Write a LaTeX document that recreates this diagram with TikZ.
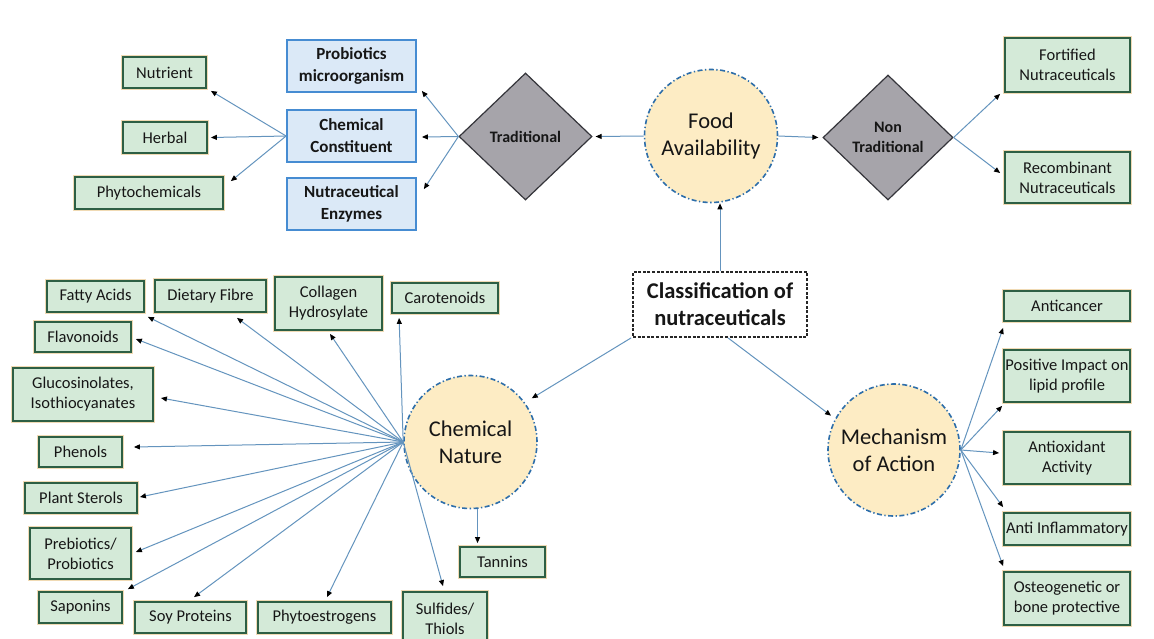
\documentclass[tikz,border=0pt]{standalone}
\usepackage{fontspec}
\setmainfont{Carlito}
\usetikzlibrary{arrows.meta,shapes.geometric}
\definecolor{gfill}{RGB}{212,234,216}
\definecolor{gline}{RGB}{45,95,68}
\definecolor{ghalo}{RGB}{240,218,180}
\definecolor{bfill}{RGB}{219,233,247}
\definecolor{bline}{RGB}{70,140,210}
\definecolor{dfill}{RGB}{166,164,170}
\definecolor{dline}{RGB}{52,52,58}
\definecolor{cfill}{RGB}{253,236,196}
\definecolor{cline}{RGB}{45,110,170}
\definecolor{conncol}{RGB}{100,148,190}
\definecolor{txt}{RGB}{22,22,22}
\begin{document}
\begin{tikzpicture}[x=1pt,y=-1pt,
 sz/.style 2 args={minimum width=#1,minimum height=#2},
 gbox/.style={draw=gline,fill=gfill,line width=1.8pt,preaction={draw=ghalo,line width=3.6pt},inner sep=0pt,align=center,text=txt,font=\fontsize{16.5}{20}\selectfont},
 bbox/.style={draw=bline,fill=bfill,line width=1.8pt,inner sep=0pt,align=center,text=txt,font=\bfseries\fontsize{17}{22}\selectfont,minimum width=129,minimum height=52},
 dia/.style={diamond,draw=dline,fill=dfill,line width=1.2pt,inner sep=0pt,align=center,text=txt,font=\bfseries\fontsize{16}{20}\selectfont},
 circ/.style={circle,draw=cline,fill=cfill,line width=1.6pt,dash pattern=on 5pt off 2.5pt on 1.3pt off 2.5pt,inner sep=0pt,minimum size=133,align=center,text=txt,font=\fontsize{22.5}{27}\selectfont},
 conn/.style={draw=conncol,line width=1pt,-{Triangle[length=6pt,width=5pt,color=black]}},
]
\useasboundingbox (0,0) rectangle (1154,638);
\fill[white] (0,0) rectangle (1154,638);

% top left
\node[gbox,sz={83}{31}] (nutrient) at (164.5,72.5) {Nutrient};
\node[gbox,sz={84}{31}] (herbal) at (165,137.5) {Herbal};
\node[gbox,sz={148}{32}] (phytochem) at (149,193) {Phytochemicals};
\node[bbox] (prob) at (351.5,66) {Probiotics\\microorganism};
\node[bbox] (chem) at (351.5,136) {Chemical\\Constituent};
\node[bbox] (enz) at (351.5,204) {Nutraceutical\\Enzymes};
\node[dia,minimum width=133,minimum height=127] (trad) at (525.5,136.5) {Traditional};
\node[circ] (fa) at (711,136) {Food\\Availability};
\node[dia,minimum width=130,minimum height=125] (nt) at (888,137.5) {Non\\Traditional};
\node[gbox,sz={125}{54}] (fort) at (1067.5,65) {Fortified\\Nutraceuticals};
\node[gbox,sz={125}{51}] (recomb) at (1067.5,177.5) {Recombinant\\Nutraceuticals};

% centre
\node[draw=black!85,fill=white,line width=1.8pt,dash pattern=on 3pt off 1.6pt,sz={174}{65},inner sep=0pt,align=center,text=txt,font=\bfseries\fontsize{22.5}{27}\selectfont] (class) at (720,304.5) {Classification of\\nutraceuticals};
\node[circ] (cn) at (470.5,442) {Chemical\\Nature};
\node[circ,minimum size=132] (moa) at (894,450) {Mechanism\\of Action};

% right
\node[gbox,sz={126}{30}] (anticancer) at (1067,306) {Anticancer};
\node[gbox,sz={126}{52}] (positive) at (1067,376) {Positive Impact on\\lipid profile};
\node[gbox,sz={126}{52}] (antiox) at (1067,458) {Antioxidant\\Activity};
\node[gbox,sz={126}{32}] (antiinf) at (1067,529) {Anti Inflammatory};
\node[gbox,sz={126}{53}] (osteo) at (1067,598.5) {Osteogenetic or\\bone protective};

% left (chemical nature)
\node[gbox,sz={97}{31}] (fatty) at (95.5,296.5) {Fatty Acids};
\node[gbox,sz={111}{32}] (dietary) at (210.5,296) {Dietary Fibre};
\node[gbox,sz={107}{53}] (collagen) at (328.5,303.5) {Collagen\\Hydrosylate};
\node[gbox,sz={106}{30}] (carot) at (445,298) {Carotenoids};
\node[gbox,sz={96}{30}] (flav) at (83,337) {Flavonoids};
\node[gbox,sz={140}{53}] (gluc) at (83,394.5) {Glucosinolates,\\Isothiocyanates};
\node[gbox,sz={83}{30}] (phenols) at (80.5,452) {Phenols};
\node[gbox,sz={112}{30}] (plant) at (81,498) {Plant Sterols};
\node[gbox,sz={101}{51}] (prebio) at (80.5,553.5) {Prebiotics/\\Probiotics};
\node[gbox,sz={83}{31}] (saponins) at (80.5,607.5) {Saponins};
\node[gbox,sz={111}{31}] (soy) at (190.5,617.5) {Soy Proteins};
\node[gbox,sz={133}{31}] (phyto) at (324.5,617.5) {Phytoestrogens};
\node[gbox,sz={84}{53}] (sulfides) at (445,618.5) {Sulfides/\\Thiols};
\node[gbox,sz={85}{30}] (tannins) at (502.5,562) {Tannins};

% connectors
\draw[conn] (class.north) -- (class.north |- fa.south);
\draw[conn] (fa.west) -- ([shift={(3,0)}]trad.east);
\draw[conn] (fa.east) -- ([shift={(-4,0)}]nt.west);
\draw[conn] (trad.west) -- ([shift={(5,-2)}]prob.south east);
\draw[conn] (trad.west) -- ([shift={(5,1)}]chem.east);
\draw[conn] (trad.west) -- ([shift={(7,12)}]enz.north east);
\draw[conn] (chem.west) -- ([shift={(4,2)}]nutrient.south east);
\draw[conn] (chem.west) -- ([shift={(3,0)}]herbal.east);
\draw[conn] (chem.west) -- ([shift={(7,5)}]phytochem.north east);
\draw[conn] (nt.east) -- ([shift={(-4,1)}]fort.south west);
\draw[conn] (nt.east) -- ([shift={(-4,-4.5)}]recomb.west);
\draw[conn,shorten >=8pt] ([shift={(-1,0)}]class.south west) -- (cn.36);
\draw[conn,shorten >=5pt] ([shift={(8,0)}]class.south) -- (moa.152);

\draw[conn] (cn.west) -- ([shift={(3,4)}]fatty.south east);
\draw[conn] (cn.west) -- ([shift={(26.5,5)}]dietary.south);
\draw[conn] (cn.west) -- ([shift={(1.5,3)}]collagen.south);
\draw[conn] (cn.west) -- ([shift={(8,4)}]carot.south west);
\draw[conn] (cn.west) -- ([shift={(4,2)}]flav.east);
\draw[conn] (cn.west) -- ([shift={(7,3.5)}]gluc.east);
\draw[conn] (cn.west) -- ([shift={(11,-5)}]phenols.east);
\draw[conn] (cn.west) -- ([shift={(2,-1)}]plant.east);
\draw[conn] (cn.west) -- ([shift={(4,-1.5)}]prebio.east);
\draw[conn] (cn.west) -- ([shift={(5,-2)}]saponins.north east);
\draw[conn] (cn.west) -- ([shift={(3.5,-4)}]soy.north);
\draw[conn] (cn.west) -- ([shift={(2.5,-4)}]phyto.north);
\draw[conn] (cn.west) -- ([shift={(-2,-5)}]sulfides.north);
\draw[conn] (cn.-84) -- ([shift={(0,-3)}]cn.-84 |- tannins.north);

\draw[conn] (moa.east) -- ([shift={(0,6)}]anticancer.south west);
\draw[conn] (moa.east) -- ([shift={(-1,3)}]positive.south west);
\draw[conn] (moa.east) -- ([shift={(-4,-5)}]antiox.west);
\draw[conn] (moa.east) -- ([shift={(0,-5)}]antiinf.north west);
\draw[conn] (moa.east) -- ([shift={(0,-5)}]osteo.north west);
\end{tikzpicture}
\end{document}
